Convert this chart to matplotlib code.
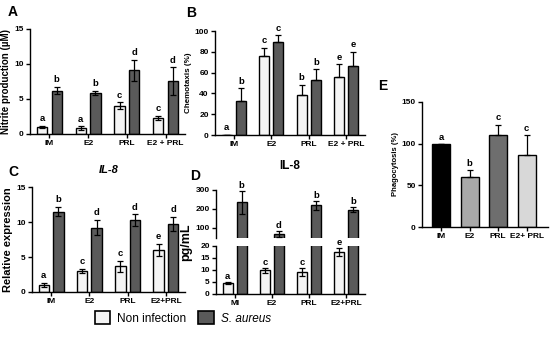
import matplotlib
matplotlib.use("Agg")
import matplotlib.pyplot as plt
from matplotlib.patches import Patch
import numpy as np

plt.rcParams['font.family'] = ['Liberation Sans', 'DejaVu Sans']
plt.rcParams['font.weight'] = 'bold'

groups_A = ["IM", "E2", "PRL", "E2 + PRL"]
A_non = [1.0, 0.8, 4.0, 2.3]
A_non_err = [0.2, 0.3, 0.5, 0.3]
A_sa = [6.2, 5.9, 9.1, 7.5]
A_sa_err = [0.5, 0.3, 1.5, 2.0]
A_letters_non = ["a", "a", "c", "c"]
A_letters_sa = ["b", "b", "d", "d"]

groups_B = ["IM", "E2", "PRL", "E2 + PRL"]
B_non = [0, 76, 38, 56]
B_non_err = [0, 8, 10, 12]
B_sa = [33, 89, 53, 66]
B_sa_err = [12, 7, 10, 14]
B_letters_non = ["a", "c", "b", "e"]
B_letters_sa = ["b", "c", "b", "e"]

groups_C = ["IM", "E2", "PRL", "E2+PRL"]
C_non = [1.0, 3.0, 3.7, 6.0]
C_non_err = [0.3, 0.3, 0.8, 0.9]
C_sa = [11.5, 9.2, 10.3, 9.7]
C_sa_err = [0.7, 1.1, 0.8, 1.0]
C_letters_non = ["a", "c", "c", "e"]
C_letters_sa = ["b", "d", "d", "d"]

groups_D = ["MI", "E2", "PRL", "E2+PRL"]
D_non = [4.5, 9.8, 9.2, 17.5]
D_non_err = [0.5, 1.0, 1.5, 1.5]
D_sa = [235, 65, 218, 196]
D_sa_err = [60, 15, 25, 12]
D_letters_non = ["a", "c", "c", "e"]
D_letters_sa = ["b", "d", "b", "b"]

groups_E = ["IM", "E2", "PRL", "E2+ PRL"]
E_vals = [100, 60, 110, 87]
E_err = [0, 8, 13, 23]
E_letters = ["a", "b", "c", "c"]
E_colors = ["#000000", "#a9a9a9", "#6e6e6e", "#d8d8d8"]

NON_COLOR = "#f4f4f4"
SA_COLOR = "#5a5a5a"

fig = plt.figure(figsize=(5.5, 3.52), dpi=100)

W, H = 550, 352
def ax_px(l, r, t, b):
    return fig.add_axes([l / W, 1 - b / H, (r - l) / W, (b - t) / H])

def style(ax, tick_fs=6.0):
    for s in ["top", "right"]:
        ax.spines[s].set_visible(False)
    for s in ["left", "bottom"]:
        ax.spines[s].set_linewidth(1.0)
    ax.tick_params(axis="both", labelsize=tick_fs, width=1.0, length=3, pad=1.5)
    for lab in ax.get_xticklabels() + ax.get_yticklabels():
        lab.set_fontweight("bold")

bw = 0.27
off = 0.19

def grouped(ax, groups, non, non_err, sa, sa_err, ln, ls, ymax, two_sided=True, letter_fs=6.8):
    x = np.arange(len(groups))
    lo_n = non_err if two_sided else [0] * len(non)
    lo_s = sa_err if two_sided else [0] * len(sa)
    ax.bar(x - off, non, bw, color=NON_COLOR, edgecolor="black", linewidth=1.0, zorder=2)
    ax.bar(x + off, sa, bw, color=SA_COLOR, edgecolor="black", linewidth=1.0, zorder=2)
    ax.errorbar(x - off, non, yerr=[lo_n, non_err], fmt="none", ecolor="black",
                elinewidth=0.9, capsize=2.2, capthick=0.9, zorder=3)
    ax.errorbar(x + off, sa, yerr=[lo_s, sa_err], fmt="none", ecolor="black",
                elinewidth=0.9, capsize=2.2, capthick=0.9, zorder=3)
    pad = ymax * 0.025
    for i in range(len(groups)):
        ax.text(x[i] - off, non[i] + non_err[i] + pad, ln[i], ha="center", va="bottom",
                fontsize=letter_fs, fontweight="bold")
        ax.text(x[i] + off, sa[i] + sa_err[i] + pad, ls[i], ha="center", va="bottom",
                fontsize=letter_fs, fontweight="bold")
    ax.set_xticks(x)
    ax.set_xticklabels(groups)
    ax.set_xlim(-0.5, 3.5)

# Panel A
axA = ax_px(30, 185, 29, 134)
grouped(axA, groups_A, A_non, A_non_err, A_sa, A_sa_err, A_letters_non, A_letters_sa, 15)
axA.set_ylim(0, 15)
axA.set_yticks([0, 5, 10, 15])
axA.set_ylabel("Nitrite production (\u00b5M)", fontsize=7, fontweight="bold", labelpad=2)
style(axA)

# Panel B
axB = ax_px(215, 365, 31, 135)
grouped(axB, groups_B, B_non, B_non_err, B_sa, B_sa_err, B_letters_non, B_letters_sa, 100,
        two_sided=False)
axB.set_ylim(0, 100)
axB.set_yticks([0, 20, 40, 60, 80, 100])
axB.set_ylabel("Chemotaxis (%)", fontsize=5.8, fontweight="bold", labelpad=2)
style(axB)

# Panel C
axC = ax_px(32, 185, 187, 292)
grouped(axC, groups_C, C_non, C_non_err, C_sa, C_sa_err, C_letters_non, C_letters_sa, 15)
axC.set_ylim(0, 15)
axC.set_yticks([0, 5, 10, 15])
axC.set_ylabel("Relative expression", fontsize=8, fontweight="bold", labelpad=2)
axC.set_title("IL-8", fontsize=8, fontweight="bold", style="italic", pad=10)
style(axC)

# Panel D (broken axis)
axDt = ax_px(216, 365, 190, 238)
axDb = ax_px(216, 365, 246, 294)
xD = np.arange(len(groups_D))
for axd, (lo, hi) in [(axDt, (45, 300)), (axDb, (0, 20))]:
    axd.bar(xD - off, D_non, bw, color=NON_COLOR, edgecolor="black", linewidth=1.0, zorder=2)
    axd.bar(xD + off, D_sa, bw, color=SA_COLOR, edgecolor="black", linewidth=1.0, zorder=2)
    axd.errorbar(xD - off, D_non, yerr=D_non_err, fmt="none", ecolor="black",
                 elinewidth=0.9, capsize=2.2, capthick=0.9, zorder=3)
    axd.errorbar(xD + off, D_sa, yerr=D_sa_err, fmt="none", ecolor="black",
                 elinewidth=0.9, capsize=2.2, capthick=0.9, zorder=3)
    axd.set_ylim(lo, hi)
    axd.set_xlim(-0.5, 3.5)
for i in range(4):
    axDb.text(xD[i] - off, D_non[i] + D_non_err[i] + 0.6, D_letters_non[i], ha="center",
              va="bottom", fontsize=6.8, fontweight="bold")
    axDt.text(xD[i] + off, D_sa[i] + D_sa_err[i] + 6, D_letters_sa[i], ha="center",
              va="bottom", fontsize=6.8, fontweight="bold", clip_on=False)
axDt.set_yticks([100, 200, 300])
axDt.set_xticks([])
axDb.set_yticks([0, 5, 10, 15, 20])
axDb.set_xticks(xD)
axDb.set_xticklabels(groups_D)
style(axDt)
style(axDb)
axDt.spines["bottom"].set_visible(False)
axDt.tick_params(axis="x", length=0)
fig.text(186 / W, 1 - 242 / H, "pg/mL", rotation=90, fontsize=9, fontweight="bold",
         ha="center", va="center")
fig.text(290 / W, 1 - 166 / H, "IL-8", fontsize=8.5, fontweight="bold", ha="center", va="center")

# Panel E
axE = ax_px(422, 548, 102, 227)
xE = np.arange(len(groups_E))
axE.bar(xE, E_vals, 0.63, color=E_colors, edgecolor="black", linewidth=1.0, zorder=2)
axE.errorbar(xE, E_vals, yerr=[[0] * 4, E_err], fmt="none", ecolor="black",
             elinewidth=0.9, capsize=2.5, capthick=0.9, zorder=3)
for i in range(4):
    axE.text(xE[i], E_vals[i] + E_err[i] + 2.5, E_letters[i], ha="center", va="bottom",
             fontsize=6.8, fontweight="bold")
axE.set_xticks(xE)
axE.set_xticklabels(groups_E)
axE.set_xlim(-0.67, 3.75)
axE.set_ylim(0, 150)
axE.set_yticks([0, 50, 100, 150])
axE.set_ylabel("Phagocytosis (%)", fontsize=5.5, fontweight="bold", labelpad=2)
style(axE)

# Panel letters
for lab, (px, py) in {"A": (8, 12), "B": (186, 13), "C": (8, 172), "D": (190, 176),
                      "E": (378, 86)}.items():
    fig.text(px / W, 1 - py / H, lab, fontsize=10, fontweight="bold", ha="left", va="center")

# Legend
handles = [Patch(facecolor=NON_COLOR, edgecolor="black", linewidth=1.2),
           Patch(facecolor=SA_COLOR, edgecolor="black", linewidth=1.2)]
leg = fig.legend(handles, ["Non infection", "S. aureus"], loc="center",
                 bbox_to_anchor=(183 / W, 1 - 318 / H), ncol=2, frameon=False,
                 prop={"size": 8.5, "weight": "normal"}, handlelength=1.3, handleheight=1.3,
                 columnspacing=1.0, handletextpad=0.6)
leg.get_texts()[1].set_fontstyle("italic")

fig.savefig("out.png", dpi=100)
